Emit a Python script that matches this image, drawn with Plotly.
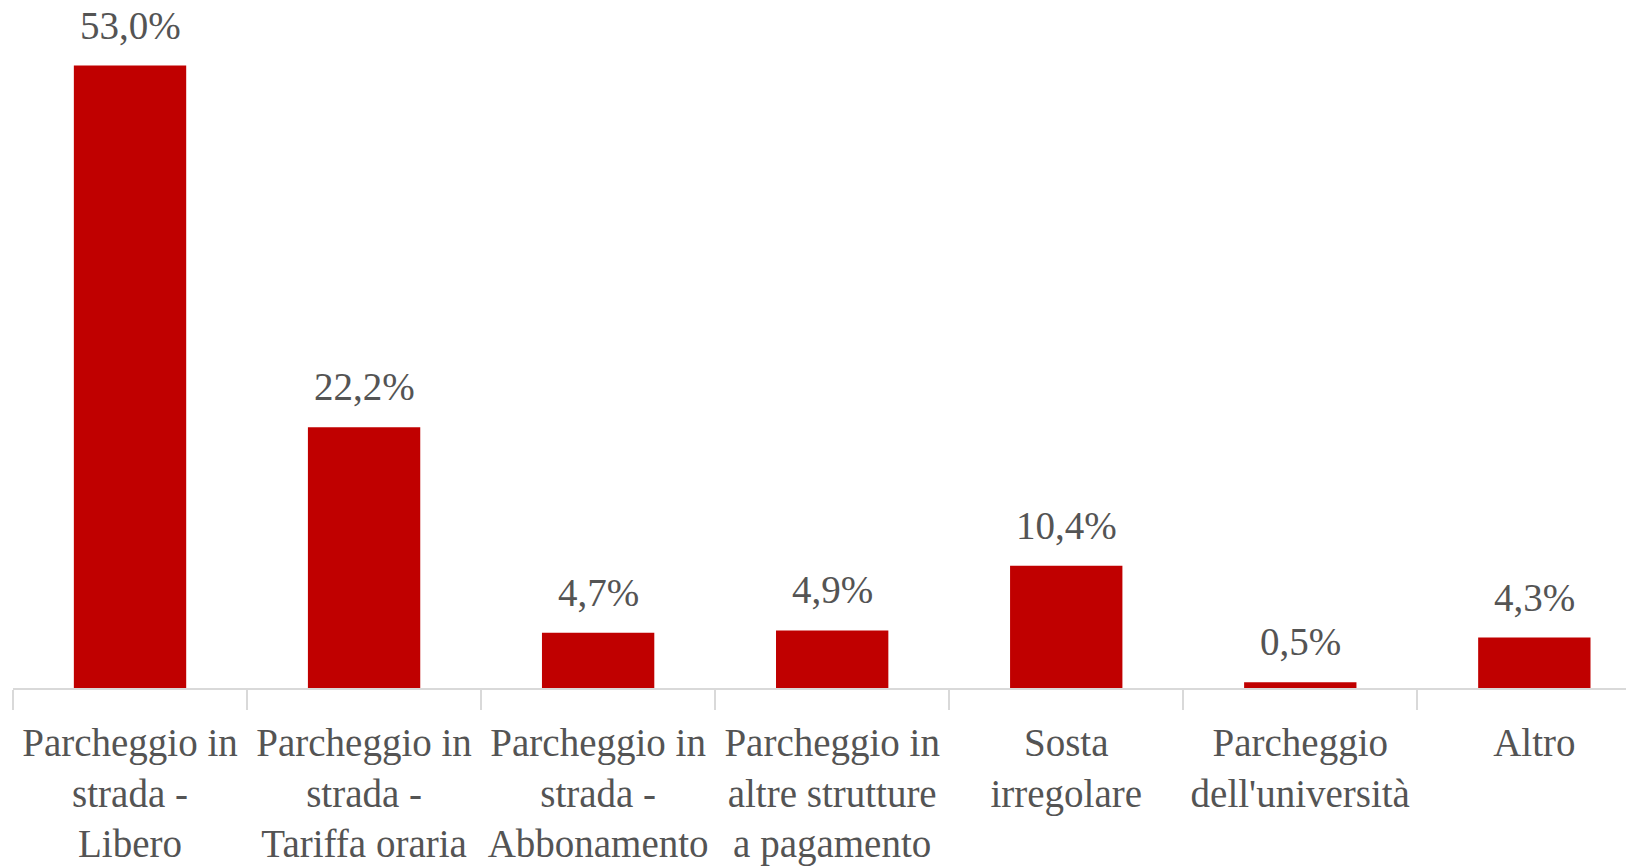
import plotly.graph_objects as go

categories = [
    "Parcheggio in<br>strada -<br>Libero",
    "Parcheggio in<br>strada -<br>Tariffa oraria",
    "Parcheggio in<br>strada -<br>Abbonamento",
    "Parcheggio in<br>altre strutture<br>a pagamento",
    "Sosta<br>irregolare",
    "Parcheggio<br>dell'università",
    "Altro",
]
values = [53.0, 22.2, 4.7, 4.9, 10.4, 0.5, 4.3]
labels = ["53,0%", "22,2%", "4,7%", "4,9%", "10,4%", "0,5%", "4,3%"]

FONT = "Liberation Serif"
TXT = "#545454"

fig = go.Figure()
fig.add_trace(go.Bar(
    x=categories, y=values, marker_color="#C00000", width=0.48,
    marker_line_width=0, hoverinfo="skip",
))
for c, v, lab in zip(categories, values, labels):
    fig.add_annotation(x=c, y=v, text=lab, showarrow=False, yanchor="bottom",
                       yshift=17, font=dict(family=FONT, size=39, color=TXT))

fig.update_layout(
    width=1634, height=866,
    margin=dict(l=5, r=0, t=0, b=186, autoexpand=False),
    plot_bgcolor="white", paper_bgcolor="white",
    showlegend=False,
    font=dict(family=FONT, size=39, color=TXT),
)
fig.update_xaxes(
    type="category",
    range=[-0.5, 6.46],
    automargin=False,
    showline=True, linecolor="#d9d9d9", linewidth=2,
    ticks="outside", tickson="boundaries", ticklen=20, tickcolor="#d9d9d9", tickwidth=2,
    tickangle=0, showgrid=False, zeroline=False,
    ticklabelstandoff=19,
    tickfont=dict(family=FONT, size=39, color=TXT),
)
fig.update_yaxes(range=[0, 57.9], visible=False, showgrid=False, zeroline=False, automargin=False)

fig.write_html("out.html")
